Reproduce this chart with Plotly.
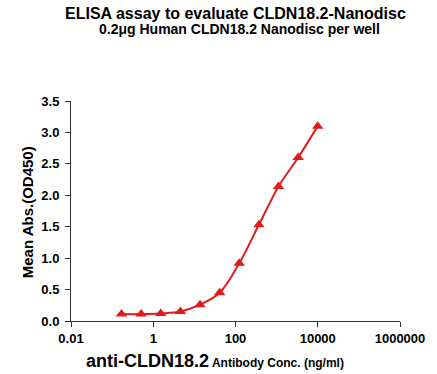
import plotly.graph_objects as go

conc = [0.169, 0.508, 1.524, 4.572, 13.72, 41.15, 123.5, 370.4, 1111.1, 3333.3, 10000]
od450 = [0.11, 0.11, 0.12, 0.15, 0.26, 0.45, 0.92, 1.53, 2.14, 2.60, 3.10]
x_tickvals = [0.01, 1, 100, 10000, 1000000]
x_ticktext = ["0.01", "1", "100", "10000", "1000000"]
y_tickvals = [0, 0.5, 1.0, 1.5, 2.0, 2.5, 3.0, 3.5]

red = "#e31a1c"
font = "Liberation Sans, Arial, sans-serif"

W, H = 437, 374
L, R, T, B = 71, 35, 101, 53

fig = go.Figure()
fig.add_trace(go.Scatter(
    x=conc, y=od450, mode="lines+markers",
    line=dict(color=red, width=2, shape="spline", smoothing=1.0),
    marker=dict(symbol="triangle-up", size=10, color=red),
    showlegend=False, cliponaxis=False,
))

fig.update_layout(
    width=W, height=H,
    margin=dict(l=L, r=R, t=T, b=B),
    paper_bgcolor="white", plot_bgcolor="white",
    font=dict(family=font, color="black"),
    xaxis=dict(
        type="log", range=[-2, 6],
        tickvals=x_tickvals, ticktext=x_ticktext,
        showline=True, linecolor="#333", linewidth=1,
        ticks="outside", ticklen=5, tickcolor="#333",
        showgrid=False, zeroline=False,
        tickfont=dict(size=13, family=font, weight="bold"),
    ),
    yaxis=dict(
        range=[0, 3.5], tickvals=y_tickvals, tickformat=".1f",
        showline=True, linecolor="#333", linewidth=1,
        ticks="outside", ticklen=5, tickcolor="#333",
        showgrid=False, zeroline=False, ticklabelstandoff=3,
        tickfont=dict(size=13, family=font, weight="bold"),
    ),
)

# annotations positioned by page pixel coordinates (x from left, y from top)
texts = [
    ("<b>ELISA assay to evaluate CLDN18.2-Nanodisc</b>", 236, 14, 16, 0),
    ("<b>0.2μg Human CLDN18.2 Nanodisc per well</b>", 241, 29, 14, 0),
    ("<b><span style='font-size:18px'>anti-CLDN18.2</span> Antibody Conc. (ng/ml)</b>", 216, 361, 12, 0),
    ("<b>Mean Abs.(OD450)</b>", 27, 212, 15, -90),
]
pw = W - L - R
ph = H - T - B
for txt, px, py, fs, ang in texts:
    fig.add_annotation(
        text=txt, x=(px - L) / pw, y=(H - B - py) / ph,
        xref="paper", yref="paper", showarrow=False,
        xanchor="center", yanchor="middle", textangle=ang,
        font=dict(size=fs, family=font),
    )

fig.write_html("out.html", config={"displayModeBar": False},
               post_script="document.body.style.margin='0';")
